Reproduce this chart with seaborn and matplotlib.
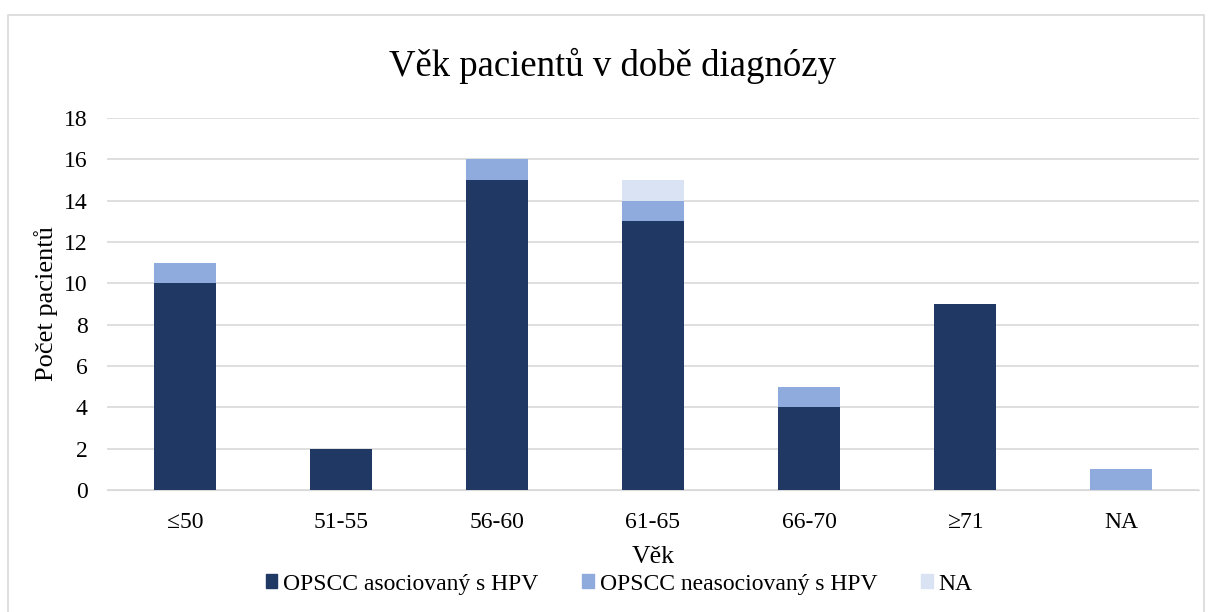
import numpy as np
import pandas as pd
import matplotlib
matplotlib.use('Agg')
import matplotlib.pyplot as plt
import seaborn as sns
from matplotlib.patches import Rectangle, Patch

# data
categories = ['≤50', '51-55', '56-60', '61-65', '66-70', '≥71', 'NA']
hpv_pos = [10, 2, 15, 13, 4, 9, 0]
hpv_neg = [1, 0, 1, 1, 1, 0, 1]
na_vals = [0, 0, 0, 1, 0, 0, 0]
series_names = ['OPSCC asociovaný s HPV', 'OPSCC neasociovaný s HPV', 'NA']
colors = ['#203864', '#8FAADC', '#DAE3F3']

sns.set_style('white')
plt.rcParams['font.family'] = ['Liberation Serif', 'DejaVu Serif']
plt.rcParams['text.color'] = 'black'
plt.rcParams['xtick.color'] = 'black'
plt.rcParams['ytick.color'] = 'black'
plt.rcParams['axes.labelcolor'] = 'black'

fig = plt.figure(figsize=(12.08, 6.12), dpi=100)
ax = fig.add_axes([0.0886, 0.1993, 0.9039, 0.6078])

df = pd.DataFrame({'cat': categories, 'pos': hpv_pos, 'neg': hpv_neg, 'na': na_vals})
bottom = np.zeros(len(categories))
for col, name, c in zip(['pos', 'neg', 'na'], series_names, colors):
    sns.barplot(data=df, x='cat', y=col, color=c, width=0.4, bottom=bottom, ax=ax,
                order=categories, label=name, saturation=1, linewidth=0,
                edgecolor='none', zorder=3)
    bottom = bottom + df[col].values

ax.set_ylim(0, 18)
ax.set_yticks(range(0, 19, 2))
ax.yaxis.grid(True, color='#D9D9D9', linewidth=1.2, zorder=0)
ax.set_axisbelow(True)
for s in ['top', 'right', 'left']:
    ax.spines[s].set_visible(False)
ax.spines['bottom'].set_color('#D9D9D9')
ax.tick_params(axis='y', length=0, labelsize=17, pad=14)
ax.tick_params(axis='x', length=0, labelsize=17, pad=16)
ax.set_xlim(-0.5, len(categories) - 0.5)

ax.set_xlabel('Věk', fontsize=18.5, labelpad=9)
ax.set_ylabel('Počet pacientů', fontsize=19, labelpad=4)
fig.suptitle('Věk pacientů v době diagnózy', fontsize=26.5, x=0.507, y=0.922)

handles = [Patch(color=c) for c in colors]
ax.legend(handles, series_names, loc='upper center', bbox_to_anchor=(0.469, -0.18),
          ncol=3, frameon=False, fontsize=17, handlelength=0.5, handleheight=0.5,
          handletextpad=0.25, columnspacing=1.85, borderpad=0.2)

fig.patches.append(Rectangle((8 / 1208, -0.01), 1196 / 1208, 1 - 15 / 612 + 0.01,
                             transform=fig.transFigure, fill=False,
                             edgecolor='#D9D9D9', linewidth=1.2))

fig.savefig('out.png', dpi=100)
